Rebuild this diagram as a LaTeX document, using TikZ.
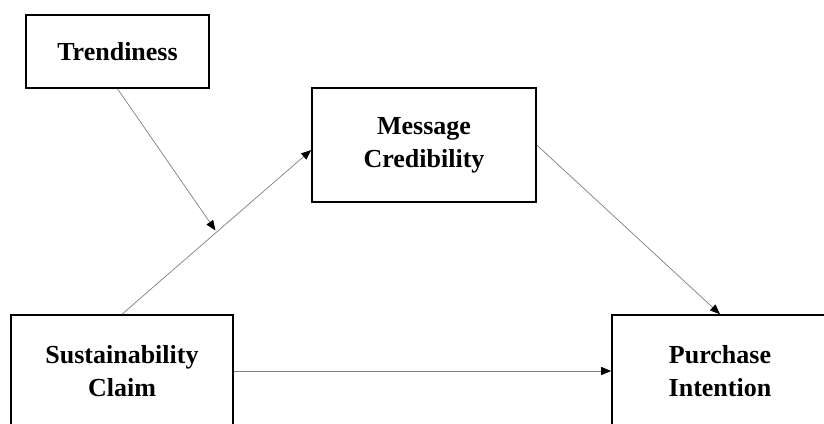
\documentclass[tikz,border=0pt]{standalone}
\usepackage{fontspec}
\setmainfont{Liberation Serif}
\usetikzlibrary{arrows.meta,calc}
\begin{document}
\begin{tikzpicture}[x=1pt,y=-1pt,
  varbox/.style={draw=black,line width=1.6pt,fill=white,align=center,inner sep=0pt,
     font=\fontsize{26}{33}\selectfont\bfseries},
  link/.style={draw=black!50,line width=0.7pt,-{Triangle[length=10pt,width=8pt,color=black]}}]
\clip (0,0) rectangle (824,423);
\useasboundingbox (0,0) rectangle (824,423);
\fill[white] (0,0) rectangle (824,423);
\node[varbox,minimum width=183pt,minimum height=73pt] (T) at (117.5,51.5) {Trendiness};
\node[varbox,minimum width=224pt,minimum height=114pt] (MC) at (424,145) {Message\\Credibility};
\node[varbox,minimum width=222pt,minimum height=112pt] (SC) at (122,371) {Sustainability\\Claim};
\node[varbox,minimum width=216pt,minimum height=112pt] (PI) at (720,371) {Purchase\\Intention};
\draw[link] (SC.north) -- coordinate[pos=0.5] (mid) ($(MC.west)+(0,5)$);
\draw[link,shorten >=2pt] (T.south) -- (mid);
\draw[link] (MC.east) -- (PI.north);
\draw[link] (SC.east) -- (PI.west);
\end{tikzpicture}
\end{document}
